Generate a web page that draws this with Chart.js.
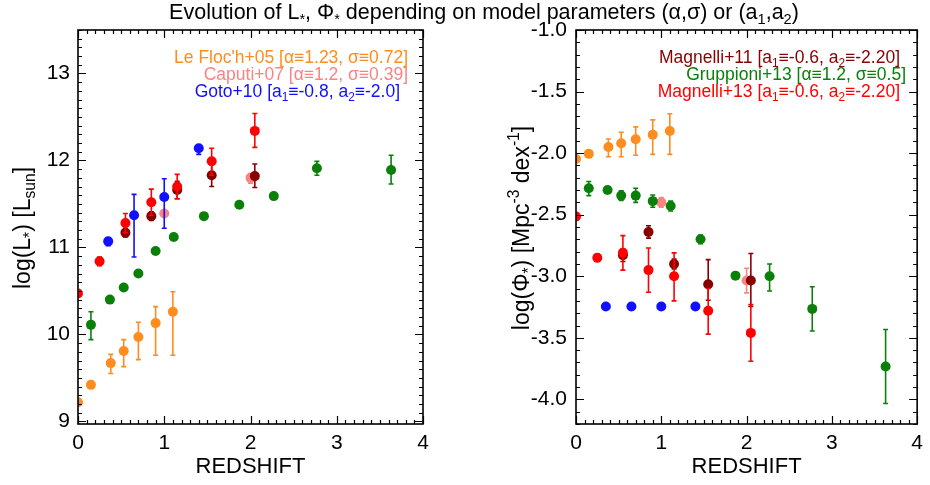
<!DOCTYPE html>
<html><head><meta charset="utf-8">
<script src="https://cdn.jsdelivr.net/npm/chart.js@4.4.1/dist/chart.umd.min.js"></script>
<style>
html,body{margin:0;padding:0;background:#fff;}
#wrap{position:relative;width:930px;height:485px;background:#fff;}
canvas{position:absolute;left:0;top:0;}
</style></head><body>
<div id="wrap"><canvas id="cL" width="930" height="485"></canvas><canvas id="cR" width="930" height="485"></canvas></div>
<script>
const FONT = '"Liberation Sans", Arial, Helvetica, sans-serif';

// ---------- DATA ----------
// redshift of each survey's points
const zLeFloch   = [0, 0.15, 0.38, 0.53, 0.70, 0.90, 1.10];
const zCaputi    = [1.0, 2.0];
const zGoto      = [0.35, 0.65, 1.0, 1.4];
const zGruppioni = [0.15, 0.37, 0.53, 0.70, 0.90, 1.11, 1.46, 1.87, 2.27, 2.77, 3.63];
const zMagnelli11 = [0.55, 0.85, 1.15, 1.55, 2.05];
const zMagnelli13 = [0, 0.25, 0.55, 0.85, 1.15, 1.55, 2.05];

// log(L*) values and errors (plus / minus)
const lLeFloch   = [9.22, 9.42, 9.67, 9.81, 9.97, 10.13, 10.26];
const lLeFlochUp = [0, 0, 0.10, 0.13, 0.17, 0.19, 0.23];
const lLeFlochDn = [0, 0, 0.12, 0.18, 0.26, 0.37, 0.50];
const lCaputi    = [11.39, 11.80];
const lCaputiUp  = [0, 0.05];
const lCaputiDn  = [0, 0.06];
const lGoto      = [11.07, 11.37, 11.58, 12.14];
const lGotoUp    = [0.04, 0.24, 0.21, 0.03];
const lGotoDn    = [0.05, 0.48, 0.36, 0.07];
const lGruppioni   = [10.11, 10.40, 10.54, 10.70, 10.96, 11.12, 11.36, 11.49, 11.59, 11.91, 11.89];
const lGruppioniUp = [0.15, 0, 0, 0, 0, 0, 0, 0, 0, 0.08, 0.17];
const lGruppioniDn = [0.17, 0, 0, 0, 0, 0, 0, 0, 0, 0.08, 0.16];
const lMagnelli11   = [11.17, 11.36, 11.66, 11.83, 11.82];
const lMagnelli11Up = [0.05, 0.05, 0.10, 0.12, 0.14];
const lMagnelli11Dn = [0.05, 0.05, 0.10, 0.13, 0.13];
const lMagnelli13   = [10.47, 10.84, 11.28, 11.52, 11.70, 11.99, 12.34];
const lMagnelli13Up = [0.03, 0.05, 0.11, 0.15, 0.14, 0.15, 0.20];
const lMagnelli13Dn = [0.03, 0.05, 0.11, 0.15, 0.14, 0.16, 0.19];

// log(Phi*) values and errors (plus / minus)
const pLeFloch   = [-2.047, -2.006, -1.95, -1.92, -1.887, -1.85, -1.82];
const pLeFlochUp = [0, 0, 0.065, 0.09, 0.10, 0.12, 0.14];
const pLeFlochDn = [0, 0, 0.08, 0.11, 0.13, 0.16, 0.19];
const pCaputi    = [-2.40, -3.035];
const pCaputiUp  = [0.04, 0.10];
const pCaputiDn  = [0.04, 0.10];
const pGoto      = [-3.245, -3.245, -3.245, -3.245];
const pGotoUp    = [0, 0, 0, 0];
const pGotoDn    = [0, 0, 0, 0];
const pGruppioni   = [-2.285, -2.30, -2.345, -2.345, -2.39, -2.43, -2.70, -2.995, -3.00, -3.265, -3.733];
const pGruppioniUp = [0.055, 0.02, 0.04, 0.06, 0.05, 0.04, 0.035, 0.02, 0.10, 0.18, 0.30];
const pGruppioniDn = [0.06, 0.02, 0.04, 0.055, 0.05, 0.04, 0.035, 0.02, 0.12, 0.18, 0.30];
const pMagnelli11   = [-2.83, -2.64, -2.90, -3.065, -3.035];
const pMagnelli11Up = [0.05, 0.05, 0.04, 0.20, 0.22];
const pMagnelli11Dn = [0.05, 0.05, 0.04, 0.13, 0.21];
const pMagnelli13   = [-2.515, -2.85, -2.81, -2.95, -3.00, -3.28, -3.46];
const pMagnelli13Up = [0.03, 0.03, 0.14, 0.18, 0.19, 0.18, 0.23];
const pMagnelli13Dn = [0.03, 0.03, 0.14, 0.18, 0.20, 0.19, 0.23];

// axes
const xTicks = [0, 1, 2, 3, 4];
const lTicks = [9, 10, 11, 12, 13];
const pTicks = [-4.0, -3.5, -3.0, -2.5, -2.0, -1.5, -1.0];

// ---------- STYLE ----------
const COL = {
  lefloch: '#ff8c1e', caputi: '#f98484', goto: '#1010ff',
  grupp: '#0a800a', mag11: '#880000', mag13: '#ff0000'
};

function pts(z, v) { return z.map((zz, i) => ({x: zz, y: v[i]})); }
function ds(label, z, v, up, dn, color) {
  return { label, data: pts(z, v), errUp: up, errDn: dn,
    backgroundColor: color, borderColor: color, borderWidth: 0,
    pointRadius: 5, pointHoverRadius: 5, showLine: false, clip: 0 };
}

function setFont(ctx, size) { ctx.font = size + 'px ' + FONT; }
// runs: [text, mode] where mode = '', 'sub', 'sup'
function richWidth(ctx, runs, size) {
  let w = 0;
  runs.forEach(([t, m]) => { setFont(ctx, m ? size * 0.68 : size); w += ctx.measureText(t).width; });
  return w;
}
function drawRich(ctx, runs, x, y, size, align, color) {
  const w = richWidth(ctx, runs, size);
  let cx = align === 'right' ? x - w : align === 'center' ? x - w / 2 : x;
  ctx.fillStyle = color; ctx.textBaseline = 'alphabetic'; ctx.textAlign = 'left';
  runs.forEach(([t, m]) => {
    const sz = m ? size * 0.68 : size;
    setFont(ctx, sz);
    const dy = m === 'sub' ? size * 0.22 : m === 'sup' ? -size * 0.42 : 0;
    ctx.fillText(t, cx, y + dy);
    cx += ctx.measureText(t).width;
  });
}

const framePlugin = {
  id: 'frame',
  beforeDatasetDraw(chart, args) {
    const d = chart.data.datasets[args.index];
    const xs = chart.scales.x, ys = chart.scales.y, ca = chart.chartArea;
    const ctx = chart.ctx;
    ctx.save();
    ctx.beginPath(); ctx.rect(ca.left, ca.top, ca.right - ca.left, ca.bottom - ca.top); ctx.clip();
    ctx.strokeStyle = d.borderColor; ctx.lineWidth = 1.6;
    d.data.forEach((p, i) => {
      const up = d.errUp[i], dn = d.errDn[i];
      if (!up && !dn) return;
      const px = xs.getPixelForValue(p.x);
      const y1 = ys.getPixelForValue(p.y + up), y2 = ys.getPixelForValue(p.y - dn);
      ctx.beginPath();
      ctx.moveTo(px, y1); ctx.lineTo(px, y2);
      ctx.moveTo(px - 2.5, y1); ctx.lineTo(px + 2.5, y1);
      ctx.moveTo(px - 2.5, y2); ctx.lineTo(px + 2.5, y2);
      ctx.stroke();
    });
    ctx.restore();
  },
  afterDraw(chart, args, opts) {
    const ctx = chart.ctx, ca = chart.chartArea;
    const xs = chart.scales.x, ys = chart.scales.y;
    ctx.save();
    ctx.strokeStyle = '#000'; ctx.lineWidth = 1.2;
    for (let i = 0; i <= 40; i++) {
      const px = Math.round(xs.getPixelForValue(i / 10)) + 0.5;
      const len = i % 10 === 0 ? 8 : 4;
      ctx.beginPath();
      ctx.moveTo(px, ca.bottom); ctx.lineTo(px, ca.bottom - len);
      ctx.moveTo(px, ca.top); ctx.lineTo(px, ca.top + len);
      ctx.stroke();
    }
    for (let i = opts.yMinorFrom; i <= opts.yMinorTo; i++) {
      const py = Math.round(ys.getPixelForValue(i / 10)) + 0.5;
      const len = i % opts.yMajorEvery === 0 ? 8 : 4;
      ctx.beginPath();
      ctx.moveTo(ca.left, py); ctx.lineTo(ca.left + len, py);
      ctx.moveTo(ca.right, py); ctx.lineTo(ca.right - len, py);
      ctx.stroke();
    }
    ctx.lineWidth = 1.6;
    ctx.strokeRect(ca.left, ca.top, ca.right - ca.left, ca.bottom - ca.top);
    ctx.translate(opts.yTitleX, (ca.top + ca.bottom) / 2 + 1);
    ctx.rotate(-Math.PI / 2);
    drawRich(ctx, opts.yTitle, 0, 0, 23, 'center', '#000');
    ctx.setTransform(1, 0, 0, 1, 0, 0);
    opts.legend.forEach(l => drawRich(ctx, l.runs, l.x, l.y, 17.5, 'right', l.color));
    if (opts.title) drawRich(ctx, opts.title, 484, 19, 21.5, 'center', '#000');
    ctx.restore();
  }
};

function makeOptions(ymin, ymax, ystep, yfmt, padL, padR, yWidth, yPad, frameOpts) {
  return {
    responsive: false, animation: false, devicePixelRatio: 1,
    events: [],
    layout: { padding: { left: padL, right: padR, top: 30, bottom: 0 } },
    plugins: { legend: { display: false }, tooltip: { enabled: false }, frame: frameOpts },
    scales: {
      x: {
        type: 'linear', position: 'bottom', min: 0, max: 4,
        afterBuildTicks(s) { s.ticks = xTicks.map(v => ({ value: v })); },
        ticks: { font: { size: 21, family: FONT }, color: '#000', padding: 7, maxRotation: 0, autoSkip: false },
        grid: { display: false, drawTicks: false }, border: { display: false },
        title: { display: true, text: 'REDSHIFT', color: '#000', font: { size: 22, family: FONT }, padding: { top: 0, bottom: 5 } },
        afterFit(s) { s.height = 61; }
      },
      y: {
        type: 'linear', position: 'left', min: ymin, max: ymax,
        afterBuildTicks(s) { s.ticks = ystep.map(v => ({ value: v })); },
        ticks: { font: { size: 21, family: FONT }, color: '#000', padding: yPad, autoSkip: false, callback: yfmt },
        grid: { display: false, drawTicks: false }, border: { display: false },
        afterFit(s) { s.width = yWidth; }
      }
    }
  };
}

const leftSets = [
  ds('Magnelli+13', zMagnelli13, lMagnelli13, lMagnelli13Up, lMagnelli13Dn, COL.mag13),
  ds('Magnelli+11', zMagnelli11, lMagnelli11, lMagnelli11Up, lMagnelli11Dn, COL.mag11),
  ds('Gruppioni+13', zGruppioni, lGruppioni, lGruppioniUp, lGruppioniDn, COL.grupp),
  ds('Goto+10', zGoto, lGoto, lGotoUp, lGotoDn, COL.goto),
  ds('Caputi+07', zCaputi, lCaputi, lCaputiUp, lCaputiDn, COL.caputi),
  ds("Le Floc'h+05", zLeFloch, lLeFloch, lLeFlochUp, lLeFlochDn, COL.lefloch)
];
const rightSets = [
  ds('Magnelli+13', zMagnelli13, pMagnelli13, pMagnelli13Up, pMagnelli13Dn, COL.mag13),
  ds('Magnelli+11', zMagnelli11, pMagnelli11, pMagnelli11Up, pMagnelli11Dn, COL.mag11),
  ds('Gruppioni+13', zGruppioni, pGruppioni, pGruppioniUp, pGruppioniDn, COL.grupp),
  ds('Goto+10', zGoto, pGoto, pGotoUp, pGotoDn, COL.goto),
  ds('Caputi+07', zCaputi, pCaputi, pCaputiUp, pCaputiDn, COL.caputi),
  ds("Le Floc'h+05", zLeFloch, pLeFloch, pLeFlochUp, pLeFlochDn, COL.lefloch)
];

const titleRuns = [['Evolution of L', ''], ['*', 'sub'], [', \u03A6', ''], ['*', 'sub'],
  [' depending on model parameters (\u03B1,\u03C3) or (a', ''], ['1', 'sub'], [',a', ''], ['2', 'sub'], [')', '']];

new Chart(document.getElementById('cL'), {
  type: 'scatter',
  data: { datasets: leftSets },
  options: makeOptions(8.97, 13.5, lTicks, v => String(v), 0, 507, 78, 8, {
    yMinorFrom: 90, yMinorTo: 135, yMajorEvery: 10, yTitleX: 30,
    yTitle: [['log(L', ''], ['*', 'sub'], [') [L', ''], ['sun', 'sub'], [']', '']],
    title: titleRuns,
    legend: [
      { color: COL.lefloch, x: 408, y: 63, runs: [["Le Floc'h+05 [\u03B1\u22611.23, \u03C3\u22610.72]", '']] },
      { color: COL.caputi, x: 408, y: 80, runs: [['Caputi+07 [\u03B1\u22611.2, \u03C3\u22610.39]', '']] },
      { color: COL.goto, x: 400, y: 97, runs: [['Goto+10 [a', ''], ['1', 'sub'], ['\u2261-0.8, a', ''], ['2', 'sub'], ['\u2261-2.0]', '']] }
    ]
  }),
  plugins: [framePlugin]
});

new Chart(document.getElementById('cR'), {
  type: 'scatter',
  data: { datasets: rightSets },
  options: makeOptions(-4.2, -1.0, pTicks, v => v.toFixed(1), 500, 8, 76, 9, {
    yMinorFrom: -42, yMinorTo: -10, yMajorEvery: 5, yTitleX: 529,
    yTitle: [['log(\u03A6', ''], ['*', 'sub'], [') [Mpc', ''], ['-3', 'sup'], [' dex', ''], ['-1', 'sup'], [']', '']],
    legend: [
      { color: COL.mag11, x: 900, y: 63, runs: [['Magnelli+11 [a', ''], ['1', 'sub'], ['\u2261-0.6, a', ''], ['2', 'sub'], ['\u2261-2.20]', '']] },
      { color: COL.grupp, x: 906, y: 80, runs: [['Gruppioni+13 [\u03B1\u22611.2, \u03C3\u22610.5]', '']] },
      { color: COL.mag13, x: 900, y: 97, runs: [['Magnelli+13 [a', ''], ['1', 'sub'], ['\u2261-0.6, a', ''], ['2', 'sub'], ['\u2261-2.20]', '']] }
    ]
  }),
  plugins: [framePlugin]
});
</script></body></html>
